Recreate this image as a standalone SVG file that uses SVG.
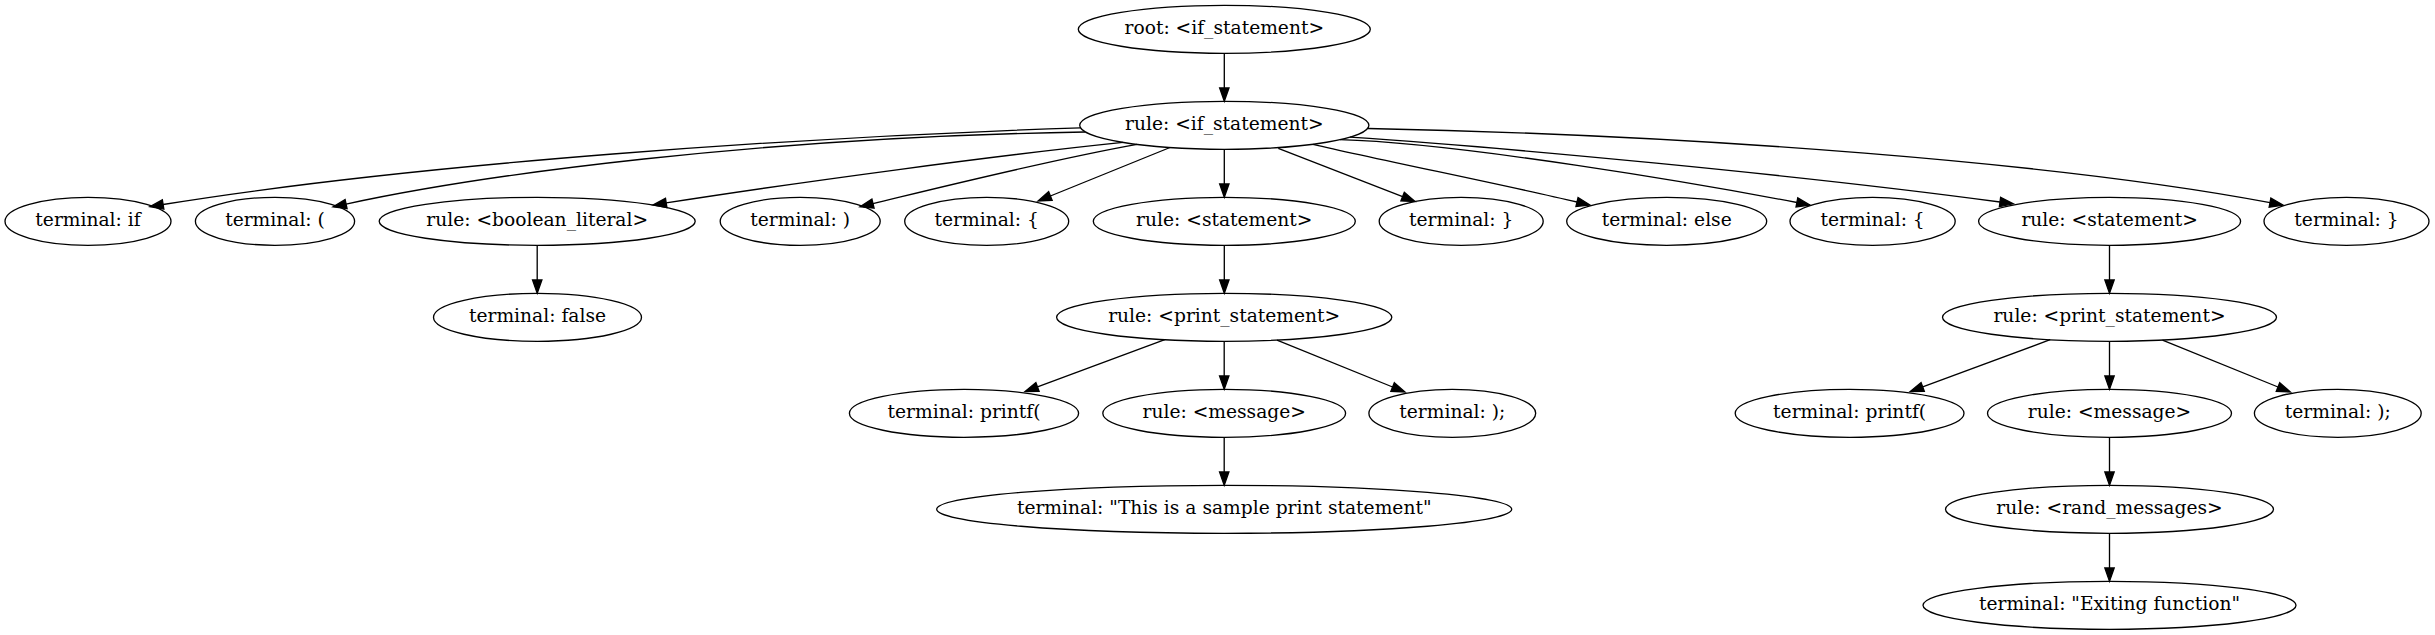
<svg xmlns="http://www.w3.org/2000/svg" width="2435" height="635" viewBox="0 0 2435 635">
<style>
.n ellipse{fill:none;stroke:#000;stroke-width:1.33}
.n text{font-family:"DejaVu Serif","Liberation Serif",serif;font-size:18.67px;text-anchor:middle;fill:#000}
#edges path{fill:none;stroke:#000;stroke-width:1.33;marker-end:url(#ah)}
</style>
<defs>
<marker id="ah" markerUnits="userSpaceOnUse" viewBox="0 0 14 10" markerWidth="14" markerHeight="10" refX="0" refY="4.67" orient="auto" overflow="visible">
<path d="M0,0 L13.33,4.67 L0,9.33 Z" fill="#000" stroke="#000" stroke-width="1.33"/>
</marker>
</defs>
<rect width="2435" height="635" fill="#fff"/>
<g id="edges">
<path d="M1224.3,53.3 L1224.3,88"/>
<path d="M1080.5,127.8 C800,137 420,163 163.1,204.5"/>
<path d="M1085,132 C760,137 480,175 346.1,204.1"/>
<path d="M1123,142.4 C1000,155 800,182 666.2,202.9"/>
<path d="M1137,144.4 C1050,160 950,185 873,203.6"/>
<path d="M1170,147.5 L1050.4,196"/>
<path d="M1224.3,149.3 L1224.3,184"/>
<path d="M1278.3,148.3 L1402.6,196.6"/>
<path d="M1313,144.3 C1380,160 1500,184 1577,202"/>
<path d="M1340,139.7 C1460,143 1700,184 1796.9,202.5"/>
<path d="M1350,137.2 C1500,147 1800,175 2000,202"/>
<path d="M1368,128.5 C1700,135 2060,163 2270,202.6"/>
<path d="M537.2,245.3 L537.2,280"/>
<path d="M1224.3,245.3 L1224.3,280"/>
<path d="M2109.5,245.3 L2109.5,280"/>
<path d="M1164.8,339.7 L1037.5,386.9"/>
<path d="M1224.2,341.3 L1224.2,376"/>
<path d="M1277,340.1 L1392.6,387"/>
<path d="M2050.2,339.7 L1922.7,386.9"/>
<path d="M2109.5,341.3 L2109.5,376"/>
<path d="M2162.5,340.1 L2278,387"/>
<path d="M1224.2,437.3 L1224.2,472"/>
<path d="M2109.5,437.3 L2109.5,472"/>
<path d="M2109.5,533.3 L2109.5,568"/>
</g>
<g id="root" class="n"><ellipse cx="1224.3" cy="29.3" rx="146" ry="24"/><text x="1224.3" y="34.3">root: &lt;if_statement&gt;</text></g>
<g id="if_statement" class="n"><ellipse cx="1224.3" cy="125.3" rx="144.6" ry="24"/><text x="1224.3" y="130.3">rule: &lt;if_statement&gt;</text></g>
<g id="t_if" class="n"><ellipse cx="88" cy="221.3" rx="83" ry="24"/><text x="88" y="226.3">terminal: if</text></g>
<g id="t_lparen" class="n"><ellipse cx="275" cy="221.3" rx="79.6" ry="24"/><text x="275" y="226.3">terminal: (</text></g>
<g id="boolean_literal" class="n"><ellipse cx="537.2" cy="221.3" rx="158" ry="24"/><text x="537.2" y="226.3">rule: &lt;boolean_literal&gt;</text></g>
<g id="t_rparen" class="n"><ellipse cx="800.2" cy="221.3" rx="80" ry="24"/><text x="800.2" y="226.3">terminal: )</text></g>
<g id="t_lbrace1" class="n"><ellipse cx="986.7" cy="221.3" rx="82" ry="24"/><text x="986.7" y="226.3">terminal: {</text></g>
<g id="statement1" class="n"><ellipse cx="1224.3" cy="221.3" rx="131" ry="24"/><text x="1224.3" y="226.3">rule: &lt;statement&gt;</text></g>
<g id="t_rbrace1" class="n"><ellipse cx="1461.2" cy="221.3" rx="82" ry="24"/><text x="1461.2" y="226.3">terminal: }</text></g>
<g id="t_else" class="n"><ellipse cx="1666.7" cy="221.3" rx="100" ry="24"/><text x="1666.7" y="226.3">terminal: else</text></g>
<g id="t_lbrace2" class="n"><ellipse cx="1872.6" cy="221.3" rx="82.6" ry="24"/><text x="1872.6" y="226.3">terminal: {</text></g>
<g id="statement2" class="n"><ellipse cx="2109.6" cy="221.3" rx="131" ry="24"/><text x="2109.6" y="226.3">rule: &lt;statement&gt;</text></g>
<g id="t_rbrace2" class="n"><ellipse cx="2346.5" cy="221.3" rx="82.5" ry="24"/><text x="2346.5" y="226.3">terminal: }</text></g>
<g id="t_false" class="n"><ellipse cx="537.5" cy="317.3" rx="104" ry="24"/><text x="537.5" y="322.3">terminal: false</text></g>
<g id="print1" class="n"><ellipse cx="1224.2" cy="317.3" rx="167.6" ry="24"/><text x="1224.2" y="322.3">rule: &lt;print_statement&gt;</text></g>
<g id="print2" class="n"><ellipse cx="2109.5" cy="317.3" rx="167" ry="24"/><text x="2109.5" y="322.3">rule: &lt;print_statement&gt;</text></g>
<g id="t_printf1" class="n"><ellipse cx="964" cy="413.3" rx="114.6" ry="24"/><text x="964" y="418.3">terminal: printf(</text></g>
<g id="message1" class="n"><ellipse cx="1224.2" cy="413.3" rx="121.4" ry="24"/><text x="1224.2" y="418.3">rule: &lt;message&gt;</text></g>
<g id="t_end1" class="n"><ellipse cx="1452.3" cy="413.3" rx="83.4" ry="24"/><text x="1452.3" y="418.3">terminal: );</text></g>
<g id="t_printf2" class="n"><ellipse cx="1849.6" cy="413.3" rx="114.4" ry="24"/><text x="1849.6" y="418.3">terminal: printf(</text></g>
<g id="message2" class="n"><ellipse cx="2109.5" cy="413.3" rx="122" ry="24"/><text x="2109.5" y="418.3">rule: &lt;message&gt;</text></g>
<g id="t_end2" class="n"><ellipse cx="2337.8" cy="413.3" rx="83.4" ry="24"/><text x="2337.8" y="418.3">terminal: );</text></g>
<g id="t_sample" class="n"><ellipse cx="1224.2" cy="509.3" rx="287.5" ry="24"/><text x="1224.2" y="514.3">terminal: "This is a sample print statement"</text></g>
<g id="rand_messages" class="n"><ellipse cx="2109.5" cy="509.3" rx="164" ry="24"/><text x="2109.5" y="514.3">rule: &lt;rand_messages&gt;</text></g>
<g id="t_exiting" class="n"><ellipse cx="2109.5" cy="605.3" rx="186.5" ry="24"/><text x="2109.5" y="610.3">terminal: "Exiting function"</text></g>
</svg>
